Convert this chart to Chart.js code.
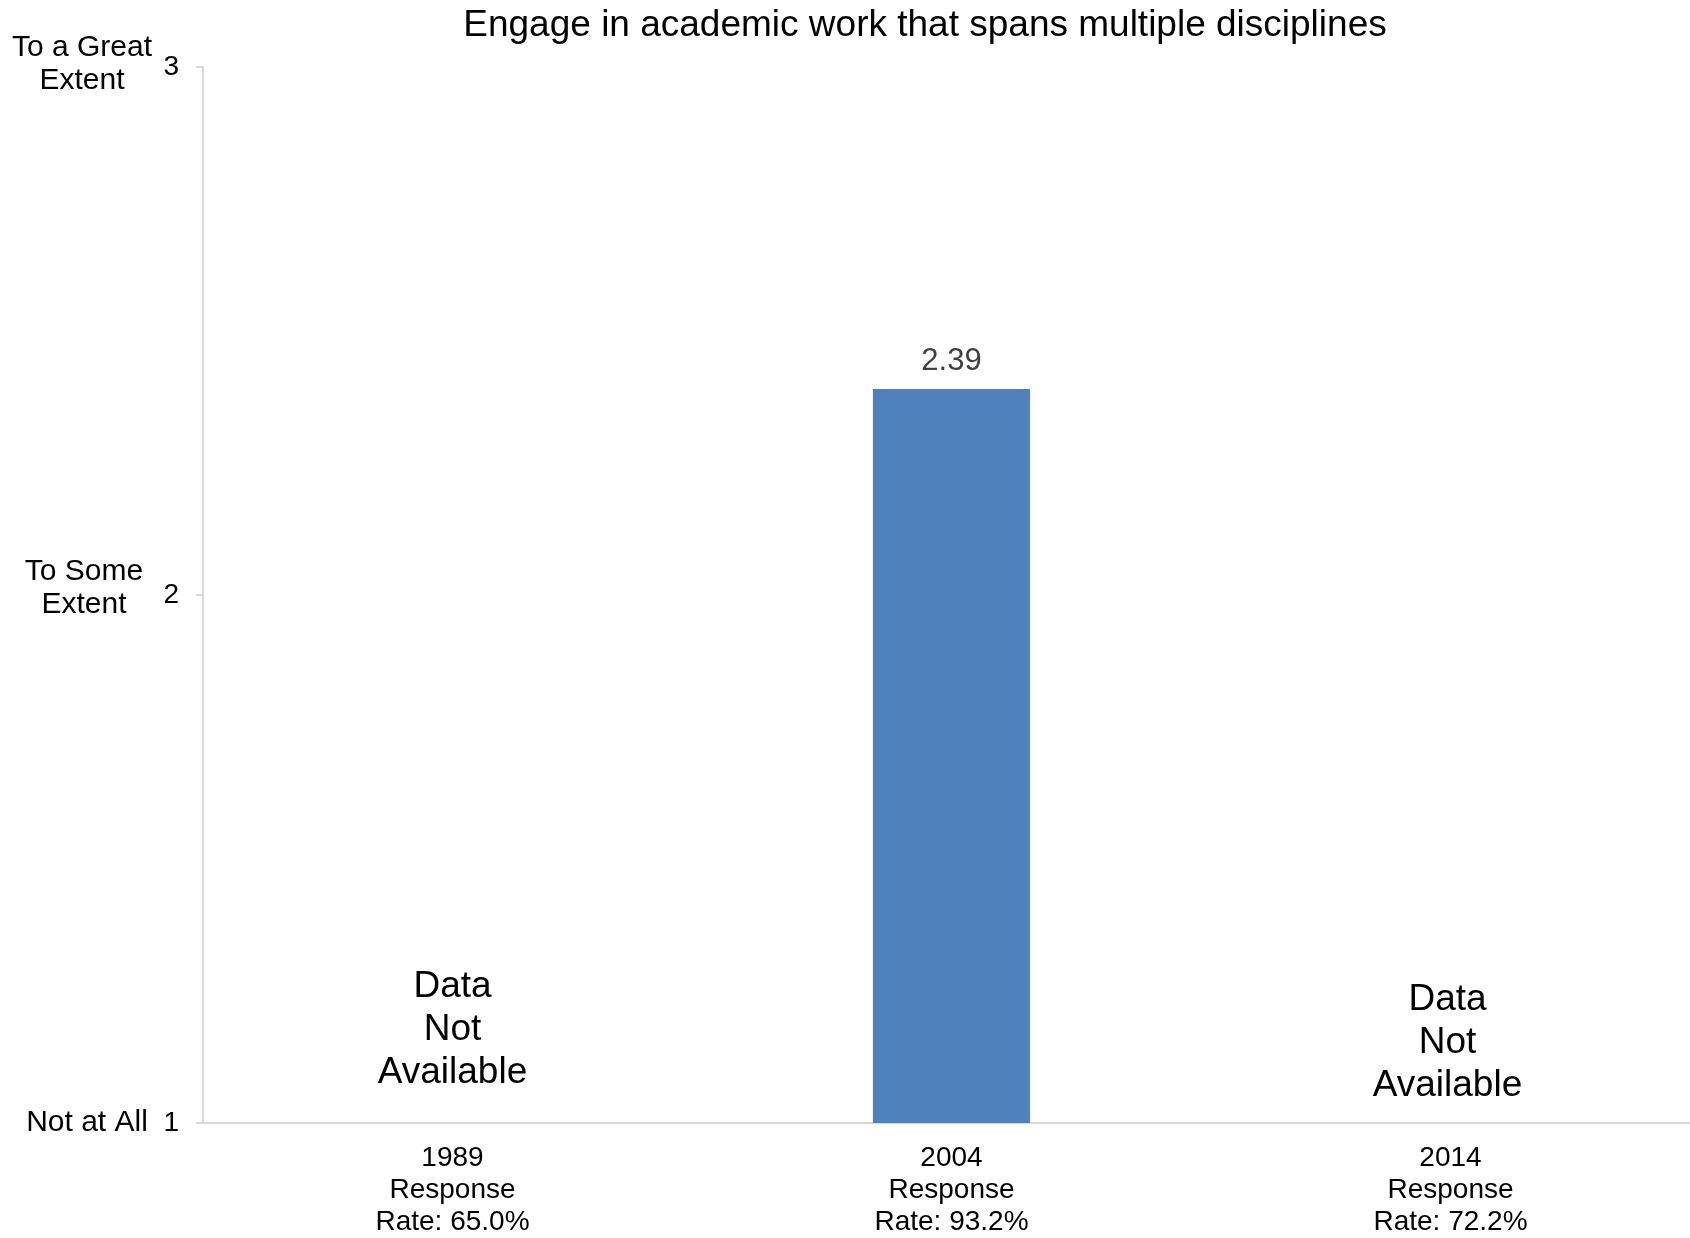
<!DOCTYPE html>
<html>
<head>
<meta charset="utf-8">
<script src="https://cdn.jsdelivr.net/npm/chart.js@4/dist/chart.umd.min.js"></script>
<style>
  html, body { margin: 0; padding: 0; background: #ffffff; overflow: hidden; }
  #wrap { width: 1700px; height: 1238px; }
</style>
</head>
<body>
<div id="wrap"><canvas id="c" width="1700" height="1238"></canvas></div>
<script>
// ---- data ----
const chartTitle = "Engage in academic work that spans multiple disciplines";
const categories = [
  ["1989", "Response", "Rate: 65.0%"],
  ["2004", "Response", "Rate: 93.2%"],
  ["2014", "Response", "Rate: 72.2%"]
];
const meanValues = [null, 2.39, null];
const yTickValues = [1, 2, 3];
const yTickText = [["Not at All"], ["To Some", "Extent"], ["To a Great", "Extent"]];
const naCategoryIndex = [0, 2];
const naYValues = [1.176, 1.152];
const naText = ["Data", "Not", "Available"];

const FONT = "'Liberation Sans', Arial, Helvetica, sans-serif";
const AXIS_GRAY = "#d9d9d9";

// label placement styles (pixels), kept separate from data
const yTextStyle = { centerX: [87, 84, 82], dy: [0, -7, -3], lineHeight: 33 };
const naStyle = { dx: [0, -3], lineHeight: 43 };

const overlayPlugin = {
  id: "overlay",
  afterDraw(chart) {
    const ctx = chart.ctx;
    const xs = chart.scales.x, ys = chart.scales.y;
    ctx.save();
    // title
    ctx.fillStyle = "#000000";
    ctx.textAlign = "center";
    ctx.textBaseline = "middle";
    ctx.font = "37px " + FONT;
    ctx.fillText(chartTitle, 925, 26);

    // y-axis text labels
    ctx.font = "30px " + FONT;
    yTickValues.forEach((v, i) => {
      const lines = yTickText[i];
      const cy = ys.getPixelForValue(v) + yTextStyle.dy[i];
      const lh = yTextStyle.lineHeight;
      const start = cy - (lines.length - 1) * lh / 2;
      lines.forEach((t, j) => ctx.fillText(t, yTextStyle.centerX[i], start + j * lh));
    });

    // "Data Not Available" annotations
    ctx.font = "37px " + FONT;
    naCategoryIndex.forEach((ci, i) => {
      const cx = xs.getPixelForValue(ci) + naStyle.dx[i];
      const cy = ys.getPixelForValue(naYValues[i]);
      const lh = naStyle.lineHeight;
      const start = cy - (naText.length - 1) * lh / 2;
      naText.forEach((t, j) => ctx.fillText(t, cx, start + j * lh));
    });

    // value labels
    ctx.font = "31px " + FONT;
    ctx.fillStyle = "#404040";
    const meta = chart.getDatasetMeta(0);
    meta.data.forEach((el, i) => {
      const v = meanValues[i];
      if (v === null || v === undefined) return;
      ctx.fillText(v.toFixed(2), el.x, el.y - 28);
    });
    ctx.restore();
  }
};

new Chart(document.getElementById("c"), {
  type: "bar",
  data: {
    labels: categories,
    datasets: [{
      data: meanValues,
      backgroundColor: "#4f81bd",
      borderWidth: 0,
      categoryPercentage: 1.0,
      barPercentage: 0.315
    }]
  },
  options: {
    responsive: false,
    animation: false,
    devicePixelRatio: 1,
    layout: { padding: { top: 67, left: 0, right: 0, bottom: 0 } },
    plugins: {
      legend: { display: false },
      title: { display: false },
      tooltip: { enabled: false }
    },
    scales: {
      x: {
        grid: { display: false, drawTicks: false },
        border: { display: true, color: AXIS_GRAY, width: 2 },
        ticks: {
          color: "#000000",
          padding: 19,
          maxRotation: 0,
          autoSkip: false,
          font: { family: FONT, size: 28, lineHeight: 32 / 28 }
        },
        afterFit(s) { s.height = 115; }
      },
      y: {
        min: 1,
        max: 3,
        grid: {
          display: true,
          drawOnChartArea: false,
          drawTicks: true,
          tickLength: 7,
          color: AXIS_GRAY,
          lineWidth: 2
        },
        border: { display: true, color: AXIS_GRAY, width: 2 },
        ticks: {
          stepSize: 1,
          color: "#000000",
          padding: 17,
          font: { family: FONT, size: 28 },
          callback: (v) => yTickValues.includes(v) ? String(v) : ""
        },
        afterFit(s) { s.width = 203; }
      }
    }
  },
  plugins: [overlayPlugin]
});
</script>
</body>
</html>
